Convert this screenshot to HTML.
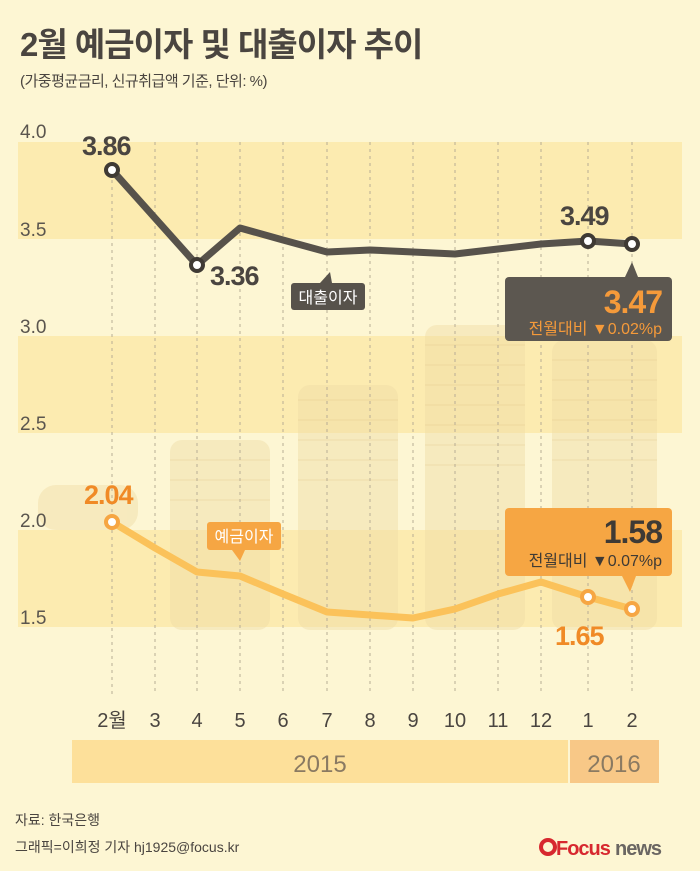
<!DOCTYPE html>
<html><head><meta charset="utf-8"><style>
body{margin:0;background:#fdf6d3;}
svg{display:block;font-family:"Liberation Sans","Noto Sans CJK KR",sans-serif;}
</style></head><body>
<svg width="700" height="871" viewBox="0 0 700 871">
<rect width="700" height="871" fill="#fdf6d3"/>
<text x="20" y="56" font-size="33" font-weight="bold" fill="#4a4540" letter-spacing="-1">2월 예금이자 및 대출이자 추이</text>
<text x="20" y="86" font-size="15" fill="#4a4540" letter-spacing="-0.5">(가중평균금리, 신규취급액 기준, 단위: %)</text>
<rect x="18" y="142" width="664" height="97" fill="#fcebb0"/>
<rect x="18" y="336" width="664" height="97" fill="#fcebb0"/>
<rect x="18" y="530" width="664" height="97" fill="#fcebb0"/>
<g fill="#efdca5" opacity="0.45">
<rect x="38" y="485" width="100" height="45" rx="18"/>
<rect x="170" y="440" width="100" height="190" rx="12"/>
<rect x="298" y="385" width="100" height="245" rx="12"/>
<rect x="425" y="325" width="100" height="305" rx="12"/>
<rect x="552" y="340" width="105" height="290" rx="12"/>
</g>
<g stroke="#e3c88a" stroke-width="1" opacity="0.4">
<line x1="170" y1="460" x2="270" y2="460"/><line x1="170" y1="480" x2="270" y2="480"/><line x1="170" y1="500" x2="270" y2="500"/>
<line x1="298" y1="400" x2="398" y2="400"/><line x1="298" y1="420" x2="398" y2="420"/><line x1="298" y1="440" x2="398" y2="440"/><line x1="298" y1="460" x2="398" y2="460"/><line x1="298" y1="480" x2="398" y2="480"/>
<line x1="425" y1="345" x2="525" y2="345"/><line x1="425" y1="365" x2="525" y2="365"/><line x1="425" y1="385" x2="525" y2="385"/><line x1="425" y1="405" x2="525" y2="405"/><line x1="425" y1="425" x2="525" y2="425"/><line x1="425" y1="445" x2="525" y2="445"/><line x1="425" y1="465" x2="525" y2="465"/>
<line x1="552" y1="360" x2="657" y2="360"/><line x1="552" y1="380" x2="657" y2="380"/><line x1="552" y1="400" x2="657" y2="400"/><line x1="552" y1="420" x2="657" y2="420"/><line x1="552" y1="440" x2="657" y2="440"/><line x1="552" y1="460" x2="657" y2="460"/>
</g>
<g stroke="#b8ad95" stroke-width="1" stroke-dasharray="3,4">
<line x1="155" y1="142" x2="155" y2="695"/><line x1="197" y1="142" x2="197" y2="695"/><line x1="240" y1="142" x2="240" y2="695"/><line x1="283" y1="142" x2="283" y2="695"/><line x1="327" y1="142" x2="327" y2="695"/><line x1="370" y1="142" x2="370" y2="695"/><line x1="413" y1="142" x2="413" y2="695"/><line x1="455" y1="142" x2="455" y2="695"/><line x1="498" y1="142" x2="498" y2="695"/><line x1="541" y1="142" x2="541" y2="695"/><line x1="588" y1="142" x2="588" y2="695"/><line x1="632" y1="142" x2="632" y2="695"/><line x1="112" y1="180" x2="112" y2="695"/>
</g>
<g font-size="19" fill="#5a554e">
<text x="20" y="138">4.0</text><text x="20" y="236">3.5</text><text x="20" y="333">3.0</text><text x="20" y="430">2.5</text><text x="20" y="527">2.0</text><text x="20" y="624">1.5</text>
</g>
<polyline fill="none" stroke="#57524b" stroke-width="7" stroke-linejoin="round" points="112,170 197,265 240,228 283,240 327,252 370,250 413,252 455,254 498,249 541,244 588,241 632,244"/>
<g fill="#fff" stroke="#3f3a34" stroke-width="4">
<circle cx="112" cy="170" r="6"/><circle cx="197" cy="265" r="6"/><circle cx="588" cy="241" r="6"/><circle cx="632" cy="244" r="6"/>
</g>
<g font-size="27" font-weight="bold" fill="#4a4540" letter-spacing="-1">
<text x="82" y="155">3.86</text><text x="210" y="285">3.36</text><text x="560" y="225">3.49</text>
</g>
<polyline fill="none" stroke="#fbc25a" stroke-width="7" stroke-linejoin="round" points="112,522 155,548 197,572 240,576 283,594 327,612 370,615 413,618 455,609 498,594 541,582 588,597 632,609"/>
<g fill="#fff" stroke="#f6a643" stroke-width="4">
<circle cx="112" cy="522" r="6"/><circle cx="588" cy="597" r="6"/><circle cx="632" cy="609" r="6"/>
</g>
<g font-size="27" font-weight="bold" fill="#f08a26" letter-spacing="-1">
<text x="84" y="504">2.04</text><text x="555" y="645">1.65</text>
</g>
<rect x="291" y="283" width="74" height="27" rx="3" fill="#57524b"/>
<path d="M320,283 L330,272 L332,283Z" fill="#57524b"/>
<text x="328" y="303" font-size="16" fill="#fff" text-anchor="middle">대출이자</text>
<rect x="207" y="522" width="74" height="28" rx="3" fill="#f6a643"/>
<path d="M232,550 L240,561 L245,550Z" fill="#f6a643"/>
<text x="244" y="542" font-size="16" fill="#fff" text-anchor="middle">예금이자</text>
<rect x="505" y="277" width="167" height="64" rx="4" fill="#5c5750"/>
<path d="M625,277 L632,262 L638,277Z" fill="#5c5750"/>
<text x="662" y="313" font-size="32" font-weight="bold" fill="#f59a3a" text-anchor="end" letter-spacing="-1">3.47</text>
<text x="662" y="334" font-size="16" fill="#f59a3a" text-anchor="end">전월대비 ▼0.02%p</text>
<rect x="505" y="508" width="167" height="68" rx="4" fill="#f6a643"/>
<path d="M622,576 L630,592 L636,576Z" fill="#f6a643"/>
<text x="662" y="543" font-size="32" font-weight="bold" fill="#3e3a35" text-anchor="end" letter-spacing="-1">1.58</text>
<text x="662" y="566" font-size="16" fill="#3e3a35" text-anchor="end">전월대비 ▼0.07%p</text>
<g font-size="20" fill="#4a4540" text-anchor="middle">
<text x="112" y="727">2월</text><text x="155" y="727">3</text><text x="197" y="727">4</text><text x="240" y="727">5</text><text x="283" y="727">6</text><text x="327" y="727">7</text><text x="370" y="727">8</text><text x="413" y="727">9</text><text x="455" y="727">10</text><text x="498" y="727">11</text><text x="541" y="727">12</text><text x="588" y="727">1</text><text x="632" y="727">2</text>
</g>
<rect x="72" y="740" width="496" height="43" fill="#fde09a"/>
<rect x="570" y="740" width="89" height="43" fill="#f8c887"/>
<text x="320" y="772" font-size="24" fill="#8a7a62" text-anchor="middle">2015</text>
<text x="614" y="772" font-size="24" fill="#8a7a62" text-anchor="middle">2016</text>
<text x="15" y="825" font-size="14" fill="#4a4540">자료: 한국은행</text>
<text x="15" y="852" font-size="14" fill="#4a4540">그래픽=이희정 기자 hj1925@focus.kr</text>
<circle cx="548" cy="847" r="7" fill="none" stroke="#d7282f" stroke-width="4"/>
<text x="556" y="855" font-size="20" font-weight="bold" fill="#d7282f" letter-spacing="-1">Focus</text>
<text x="615" y="855" font-size="20" font-weight="bold" fill="#6a6662" letter-spacing="-1">news</text>
</svg>
</body></html>
